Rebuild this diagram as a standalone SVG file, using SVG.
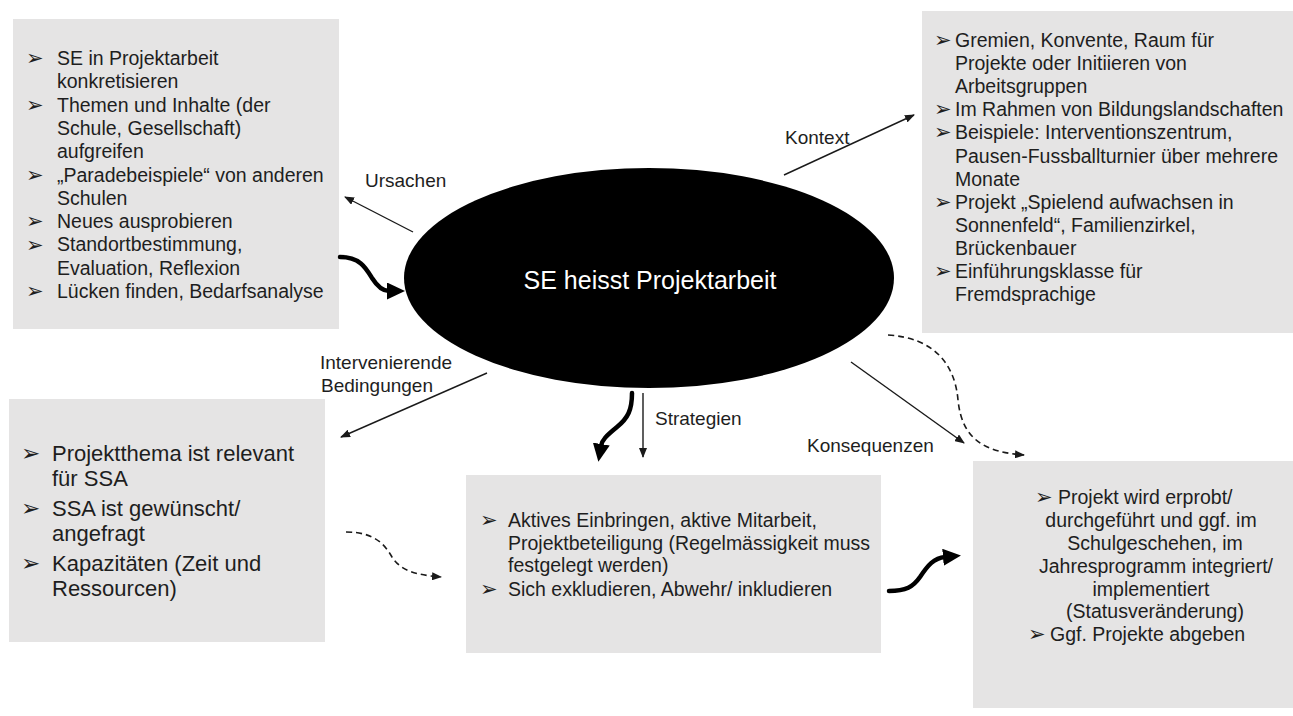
<svg xmlns="http://www.w3.org/2000/svg" width="1293" height="716" viewBox="0 0 1293 716">
<style>
  .box { fill: #e5e4e4; }
  .t { font-family: "Liberation Sans", Arial, sans-serif; font-size: 19.5px; fill: #1e1e1e; }
  .tl { font-family: "Liberation Sans", Arial, sans-serif; font-size: 22px; fill: #1e1e1e; }
  .lab { font-family: "Liberation Sans", Arial, sans-serif; font-size: 19px; fill: #1e1e1e; }
  .b { font-family: "DejaVu Sans", sans-serif; font-size: 21px; fill: #1e1e1e; }
  .bl { font-family: "DejaVu Sans", sans-serif; font-size: 23px; fill: #1e1e1e; }
  .thin { fill: none; stroke: #1a1a1a; stroke-width: 1.4; }
  .dash { fill: none; stroke: #1a1a1a; stroke-width: 1.6; stroke-dasharray: 6 4; }
  .thick { fill: none; stroke: #000; stroke-width: 4.5; stroke-linecap: round; }
</style>
<defs>
  <marker id="ah" markerWidth="10" markerHeight="8" refX="9" refY="4" orient="auto" markerUnits="userSpaceOnUse">
    <path d="M0,0 L10,4 L0,8 z" fill="#1a1a1a"/>
  </marker>
  <marker id="ahb" markerWidth="18" markerHeight="17" refX="2" refY="8.5" orient="auto" markerUnits="userSpaceOnUse">
    <path d="M0,0 L18,8.5 L0,17 z" fill="#000"/>
  </marker>
</defs>
<rect width="1293" height="716" fill="#fff"/>

<g id="ursachen-box">
  <rect class="box" x="13" y="19" width="326" height="310"/>
  <text class="b" x="26" y="65">➢</text>
  <text class="b" x="26" y="112">➢</text>
  <text class="b" x="26" y="182">➢</text>
  <text class="b" x="26" y="228">➢</text>
  <text class="b" x="26" y="252">➢</text>
  <text class="b" x="26" y="298">➢</text>
  <text class="t" x="57" y="65">SE in Projektarbeit</text>
  <text class="t" x="57" y="88.3">konkretisieren</text>
  <text class="t" x="57" y="111.6">Themen und Inhalte (der</text>
  <text class="t" x="57" y="134.9">Schule, Gesellschaft)</text>
  <text class="t" x="57" y="158.2">aufgreifen</text>
  <text class="t" x="57" y="181.5">„Paradebeispiele“ von anderen</text>
  <text class="t" x="57" y="204.8">Schulen</text>
  <text class="t" x="57" y="228.1">Neues ausprobieren</text>
  <text class="t" x="57" y="251.4">Standortbestimmung,</text>
  <text class="t" x="57" y="274.7">Evaluation, Reflexion</text>
  <text class="t" x="57" y="298">Lücken finden, Bedarfsanalyse</text>
</g>

<g id="kontext-box">
  <rect class="box" x="922" y="11" width="371" height="322"/>
  <text class="b" x="934" y="47">➢</text>
  <text class="b" x="934" y="116.3">➢</text>
  <text class="b" x="934" y="139.4">➢</text>
  <text class="b" x="934" y="208.7">➢</text>
  <text class="b" x="934" y="278">➢</text>
  <text class="t" x="955" y="47">Gremien, Konvente, Raum für</text>
  <text class="t" x="955" y="70.1">Projekte oder Initiieren von</text>
  <text class="t" x="955" y="93.2">Arbeitsgruppen</text>
  <text class="t" x="955" y="116.3">Im Rahmen von Bildungslandschaften</text>
  <text class="t" x="955" y="139.4">Beispiele: Interventionszentrum,</text>
  <text class="t" x="955" y="162.5">Pausen-Fussballturnier über mehrere</text>
  <text class="t" x="955" y="185.6">Monate</text>
  <text class="t" x="955" y="208.7">Projekt „Spielend aufwachsen in</text>
  <text class="t" x="955" y="231.8">Sonnenfeld“, Familienzirkel,</text>
  <text class="t" x="955" y="254.9">Brückenbauer</text>
  <text class="t" x="955" y="278">Einführungsklasse für</text>
  <text class="t" x="955" y="301.1">Fremdsprachige</text>
</g>

<g id="bedingungen-box">
  <rect class="box" x="9" y="399" width="316" height="243"/>
  <text class="bl" x="21" y="461">➢</text>
  <text class="bl" x="21" y="516">➢</text>
  <text class="bl" x="21" y="571">➢</text>
  <text class="tl" x="52" y="461">Projektthema ist relevant</text>
  <text class="tl" x="52" y="486">für SSA</text>
  <text class="tl" x="52" y="516">SSA ist gewünscht/</text>
  <text class="tl" x="52" y="541">angefragt</text>
  <text class="tl" x="52" y="571">Kapazitäten (Zeit und</text>
  <text class="tl" x="52" y="596">Ressourcen)</text>
</g>

<g id="strategien-box">
  <rect class="box" x="466" y="475" width="415" height="178"/>
  <text class="b" x="480" y="527">➢</text>
  <text class="b" x="480" y="596">➢</text>
  <text class="t" x="508" y="527">Aktives Einbringen, aktive Mitarbeit,</text>
  <text class="t" x="508" y="550">Projektbeteiligung (Regelmässigkeit muss</text>
  <text class="t" x="508" y="572">festgelegt werden)</text>
  <text class="t" x="508" y="596">Sich exkludieren, Abwehr/ inkludieren</text>
</g>

<g id="konsequenzen-box">
  <rect class="box" x="973" y="461" width="320" height="247"/>
  <text class="b" x="1035" y="504">➢</text>
  <text class="b" x="1028" y="641">➢</text>
  <text class="t" x="1058" y="504">Projekt wird erprobt/</text>
  <text class="t" x="1151" y="527" text-anchor="middle">durchgeführt und ggf. im</text>
  <text class="t" x="1155" y="550" text-anchor="middle">Schulgeschehen, im</text>
  <text class="t" x="1156" y="573" text-anchor="middle">Jahresprogramm integriert/</text>
  <text class="t" x="1151" y="596" text-anchor="middle">implementiert</text>
  <text class="t" x="1155" y="618" text-anchor="middle">(Statusveränderung)</text>
  <text class="t" x="1050" y="641">Ggf. Projekte abgeben</text>
</g>

<g id="center">
  <ellipse cx="649" cy="278" rx="245" ry="110" fill="#000"/>
  <text x="650" y="289" text-anchor="middle" font-family="Liberation Sans, Arial, sans-serif" font-size="25" fill="#fff">SE heisst Projektarbeit</text>
</g>

<g id="connectors">
  <path class="thin" d="M413,232 L345,197" marker-end="url(#ah)"/>
  <path class="thick" d="M340,257 C360,257 366,268 372,278 C379,289 384,291 389,291" marker-end="url(#ahb)"/>
  <path class="thin" d="M784,175 L914,115" marker-end="url(#ah)"/>
  <path class="thin" d="M487,373 L341,437" marker-end="url(#ah)"/>
  <path class="thin" d="M643,393 L643,457" marker-end="url(#ah)"/>
  <path class="thick" d="M632,393 C632,410 628,418 617,427 C606,436 602,440 601,446" marker-end="url(#ahb)"/>
  <path class="thin" d="M851,362 L964,443" marker-end="url(#ah)"/>
  <path class="dash" d="M888,335 C935,338 955,365 958,400 C962,440 985,452 1024,455" marker-end="url(#ah)"/>
  <path class="dash" d="M346,532 C375,532 385,545 392,557 C400,570 415,575 441,577" marker-end="url(#ah)"/>
  <path class="thick" d="M889,591 C906,591 913,587 920,577 C928,565 934,558 945,557" marker-end="url(#ahb)"/>
</g>

<g id="labels">
  <text class="lab" x="365" y="187">Ursachen</text>
  <text class="lab" x="785" y="144">Kontext</text>
  <text class="lab" x="320" y="369">Intervenierende</text>
  <text class="lab" x="321" y="392">Bedingungen</text>
  <text class="lab" x="655" y="425">Strategien</text>
  <text class="lab" x="807" y="452">Konsequenzen</text>
</g>
</svg>
